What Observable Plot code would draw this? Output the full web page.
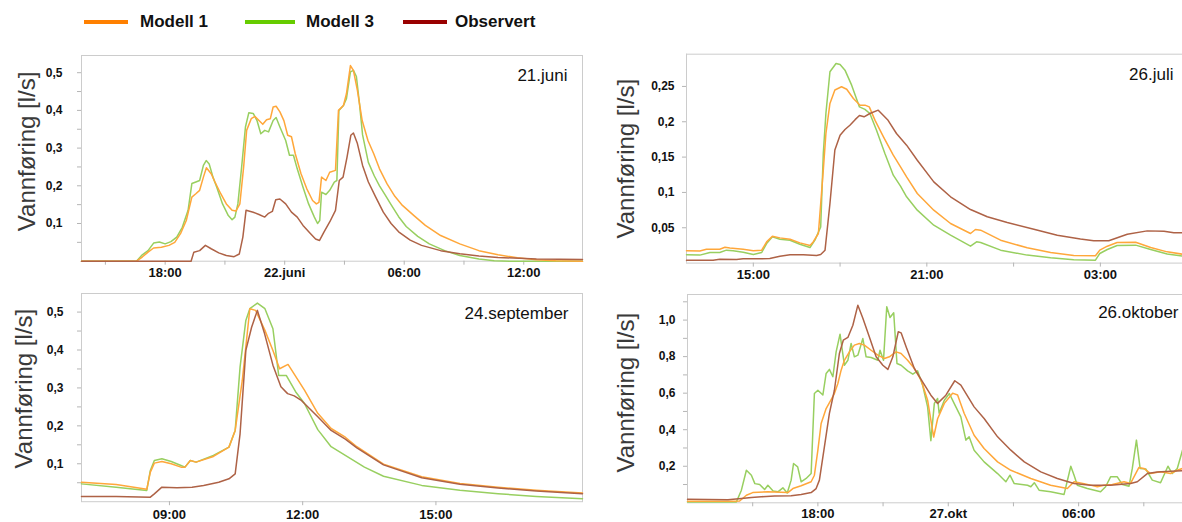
<!DOCTYPE html>
<html>
<head>
<meta charset="utf-8">
<script src="https://cdn.jsdelivr.net/npm/d3@7"></script>
<script src="https://cdn.jsdelivr.net/npm/@observablehq/plot@0.6"></script>
<style>
  html, body { margin: 0; padding: 0; background: #fff; overflow: hidden; }
  body { width: 1182px; height: 522px; position: relative; font-family: "Liberation Sans", Arial, sans-serif; }
  .panel { position: absolute; }
  .lg-line { position: absolute; top: 20px; height: 4px; }
  .lg-text { position: absolute; top: 11px; font-size: 17px; line-height: 22px; font-weight: bold; color: #111; }
</style>
</head>
<body>
<div id="legend"></div>
<div id="p1" class="panel" style="left:0px;top:40px"></div>
<div id="p2" class="panel" style="left:600px;top:40px"></div>
<div id="p3" class="panel" style="left:0px;top:280px"></div>
<div id="p4" class="panel" style="left:600px;top:280px"></div>
<script>
// ---------- series names / colours ----------
const seriesNames = ["Modell 1", "Modell 3", "Observert"];
const legendColors = ["#ff8000", "#66cc00", "#990000"];
const lineColors = ["#ffa73a", "#98cf60", "#ae6246"];
const yTitle = "Vannføring [l/s]";

// ---------- 21. juni (hours since 21 June 00:00, l/s) ----------
const juniModell1 = [[13.8,0],[16.56,0],[16.85,0.011],[17.14,0.024],[17.42,0.035],[17.81,0.037],[18.19,0.042],[18.48,0.05],[18.77,0.073],[19.06,0.108],[19.34,0.17],[19.54,0.179],[19.73,0.188],[19.92,0.223],[20.07,0.248],[20.31,0.232],[20.5,0.21],[20.79,0.179],[21.07,0.152],[21.36,0.135],[21.55,0.133],[21.75,0.152],[21.94,0.25],[22.09,0.347],[22.32,0.378],[22.51,0.384],[22.71,0.373],[22.9,0.363],[23.09,0.375],[23.28,0.378],[23.42,0.409],[23.57,0.411],[23.76,0.396],[23.96,0.373],[24.15,0.334],[24.34,0.33],[24.53,0.285],[24.82,0.232],[25.11,0.192],[25.4,0.161],[25.59,0.152],[25.72,0.156],[25.85,0.223],[26.07,0.214],[26.26,0.236],[26.55,0.241],[26.7,0.4],[26.95,0.413],[27.1,0.444],[27.3,0.519],[27.45,0.506],[27.65,0.453],[27.89,0.373],[28.18,0.32],[28.47,0.285],[28.76,0.245],[29.14,0.205],[29.53,0.172],[29.91,0.148],[30.49,0.121],[31.06,0.095],[31.83,0.068],[32.79,0.046],[33.75,0.028],[34.71,0.017],[35.68,0.009],[36.64,0.004],[37.6,0.001],[38.95,0]];
const juniModell3 = [[13.8,0],[16.56,0],[16.85,0.017],[17.14,0.028],[17.42,0.048],[17.71,0.051],[18.0,0.046],[18.29,0.052],[18.58,0.064],[18.86,0.09],[19.15,0.135],[19.34,0.206],[19.54,0.21],[19.73,0.214],[19.92,0.254],[20.06,0.267],[20.21,0.258],[20.4,0.223],[20.59,0.196],[20.88,0.152],[21.17,0.121],[21.36,0.11],[21.5,0.117],[21.65,0.152],[21.84,0.25],[22.03,0.356],[22.2,0.394],[22.42,0.392],[22.61,0.373],[22.8,0.338],[23.0,0.347],[23.19,0.343],[23.42,0.373],[23.57,0.381],[23.76,0.356],[24.05,0.32],[24.24,0.281],[24.44,0.281],[24.63,0.245],[24.92,0.196],[25.2,0.152],[25.49,0.117],[25.65,0.1],[25.76,0.108],[25.85,0.183],[26.07,0.177],[26.26,0.188],[26.49,0.21],[26.62,0.214],[26.72,0.4],[26.95,0.413],[27.1,0.431],[27.3,0.502],[27.45,0.506],[27.6,0.49],[27.75,0.42],[27.91,0.335],[28.2,0.262],[28.5,0.226],[28.76,0.2],[29.05,0.175],[29.34,0.15],[29.72,0.118],[30.1,0.092],[30.68,0.066],[31.26,0.046],[32.03,0.028],[32.79,0.015],[33.75,0.006],[34.52,0.001],[35.29,0],[38.95,0]];
const juniObservert = [[13.8,0],[19.3,0],[19.44,0.024],[19.73,0.028],[20.02,0.042],[20.31,0.033],[20.69,0.022],[21.07,0.015],[21.46,0.012],[21.72,0.019],[21.9,0.064],[22.06,0.135],[22.42,0.13],[22.71,0.124],[23.0,0.117],[23.19,0.127],[23.38,0.132],[23.55,0.163],[23.76,0.165],[24.05,0.152],[24.34,0.13],[24.63,0.117],[24.92,0.095],[25.3,0.073],[25.55,0.059],[25.75,0.055],[25.97,0.077],[26.26,0.104],[26.55,0.135],[26.74,0.214],[26.93,0.223],[27.13,0.276],[27.32,0.334],[27.45,0.34],[27.65,0.312],[27.91,0.254],[28.2,0.21],[28.57,0.17],[28.95,0.13],[29.34,0.1],[29.72,0.078],[30.3,0.056],[30.87,0.042],[31.83,0.028],[32.79,0.02],[33.75,0.014],[34.71,0.01],[36.64,0.006],[38.95,0.0045]];
const juniXTicks = [18, 24, 30, 36];
const juniXLabels = ["18:00", "22.juni", "06:00", "12:00"];
const juniXMinor = [15, 18, 21, 24, 27, 30, 33, 36];
const juniYTicks = [0.1, 0.2, 0.3, 0.4, 0.5];
const juniYMinor = [0.05, 0.1, 0.15, 0.2, 0.25, 0.3, 0.35, 0.4, 0.45, 0.5];

// ---------- 26. juli ----------
const juliModell1 = [[12.69,0.0174],[13.15,0.017],[13.38,0.0197],[13.84,0.0197],[14.02,0.0225],[14.19,0.0215],[14.65,0.0197],[15.0,0.0174],[15.29,0.0183],[15.46,0.03],[15.66,0.038],[15.92,0.0357],[16.27,0.0338],[16.61,0.0286],[16.96,0.0248],[17.07,0.03],[17.25,0.0419],[17.42,0.1315],[17.51,0.183],[17.65,0.226],[17.82,0.245],[18.05,0.2495],[18.23,0.246],[18.46,0.233],[18.69,0.2235],[18.86,0.2235],[19.01,0.221],[19.21,0.202],[19.5,0.1787],[19.84,0.1527],[20.09,0.1362],[20.3,0.122],[20.67,0.0985],[21.24,0.0749],[21.82,0.056],[22.51,0.0419],[22.68,0.0475],[22.86,0.0466],[23.55,0.0324],[24.47,0.0216],[25.28,0.015],[26.08,0.0108],[26.83,0.0103],[26.98,0.0183],[27.24,0.0239],[27.58,0.0291],[28.22,0.0296],[28.74,0.022],[29.31,0.0159],[29.84,0.0126]];
const juliModell3 = [[12.69,0.0117],[13.15,0.0113],[13.5,0.015],[13.84,0.015],[14.07,0.0183],[14.3,0.0174],[14.65,0.0155],[15.0,0.0122],[15.29,0.015],[15.46,0.0277],[15.66,0.0371],[15.92,0.0338],[16.27,0.0324],[16.61,0.0267],[16.96,0.022],[17.13,0.0324],[17.33,0.0513],[17.42,0.155],[17.51,0.2117],[17.65,0.2707],[17.86,0.2824],[18.0,0.281],[18.17,0.273],[18.4,0.2518],[18.67,0.221],[18.86,0.2176],[19.03,0.2117],[19.26,0.188],[19.55,0.155],[19.84,0.1244],[20.09,0.1088],[20.3,0.0938],[20.67,0.0749],[21.24,0.0536],[21.82,0.0395],[22.51,0.0239],[22.72,0.0301],[22.86,0.0292],[23.55,0.0183],[24.47,0.0113],[25.28,0.0075],[26.08,0.0047],[26.83,0.0042],[26.98,0.0136],[27.24,0.0192],[27.58,0.0249],[28.22,0.0254],[28.74,0.0192],[29.31,0.013],[29.84,0.0099]];
const juliObservert = [[12.69,0.0041],[13.61,0.0041],[13.84,0.0055],[14.42,0.005],[14.65,0.006],[15.57,0.0064],[15.92,0.0098],[16.27,0.0117],[16.73,0.0117],[17.19,0.0108],[17.33,0.0122],[17.48,0.0183],[17.65,0.0843],[17.82,0.16],[18.0,0.181],[18.17,0.189],[18.34,0.195],[18.52,0.203],[18.67,0.2089],[18.83,0.207],[19.03,0.2117],[19.32,0.2164],[19.66,0.202],[19.95,0.1834],[20.3,0.1669],[20.67,0.1456],[21.24,0.115],[21.82,0.0938],[22.51,0.0758],[23.09,0.0655],[23.78,0.0575],[24.7,0.048],[25.51,0.0395],[26.31,0.034],[26.77,0.0317],[27.29,0.0317],[27.93,0.0409],[28.62,0.0456],[29.2,0.0451],[29.54,0.0428],[29.84,0.0428]];
const juliXTicks = [15, 21, 27];
const juliXLabels = ["15:00", "21:00", "03:00"];
const juliXMinor = [15, 18, 21, 24, 27];
const juliYTicks = [0.05, 0.1, 0.15, 0.2, 0.25];
const juliYMinor = [0.05, 0.1, 0.15, 0.2, 0.25];

// ---------- 24. september ----------
const septModell1 = [[7.02,0.0515],[7.8,0.0454],[8.49,0.0331],[8.57,0.078],[8.66,0.1017],[8.83,0.106],[9.04,0.0999],[9.26,0.0911],[9.35,0.0911],[9.47,0.1087],[9.6,0.1043],[9.99,0.1193],[10.34,0.1439],[10.48,0.1879],[10.64,0.3197],[10.81,0.5089],[10.94,0.5045],[11.15,0.4517],[11.33,0.3989],[11.48,0.3505],[11.67,0.362],[12.04,0.294],[12.34,0.233],[12.64,0.193],[12.96,0.17],[13.22,0.145],[13.82,0.099],[14.68,0.066],[15.54,0.048],[16.4,0.038],[17.26,0.03],[18.3,0.023]];
const septModell3 = [[7.02,0.047],[7.8,0.0383],[8.49,0.0296],[8.57,0.0823],[8.66,0.1087],[8.83,0.1131],[9.04,0.106],[9.26,0.0955],[9.35,0.0911],[9.47,0.1087],[9.6,0.1043],[9.99,0.122],[10.34,0.1439],[10.48,0.188],[10.59,0.355],[10.72,0.478],[10.81,0.509],[10.98,0.5238],[11.15,0.509],[11.33,0.456],[11.46,0.333],[11.63,0.333],[11.84,0.29],[12.04,0.259],[12.34,0.19],[12.64,0.145],[12.96,0.122],[13.39,0.091],[13.82,0.067],[14.68,0.043],[15.54,0.03],[16.4,0.021],[17.26,0.014],[18.3,0.0076]];
const septObservert = [[7.02,0.0137],[7.8,0.0137],[8.57,0.012],[8.66,0.0207],[8.83,0.0384],[9.17,0.0366],[9.51,0.0384],[9.77,0.0427],[10.11,0.0515],[10.34,0.0603],[10.48,0.0735],[10.59,0.179],[10.72,0.399],[10.85,0.46],[10.98,0.5045],[11.14,0.444],[11.33,0.36],[11.51,0.303],[11.66,0.285],[11.81,0.279],[11.96,0.268],[12.34,0.224],[12.64,0.188],[12.96,0.165],[13.22,0.142],[13.82,0.097],[14.68,0.063],[15.54,0.046],[16.4,0.036],[17.26,0.028],[18.3,0.021]];
const septXTicks = [9, 12, 15];
const septXLabels = ["09:00", "12:00", "15:00"];
const septXMinor = [9, 12, 15];
const septYTicks = [0.1, 0.2, 0.3, 0.4, 0.5];
const septYMinor = [0.05, 0.1, 0.15, 0.2, 0.25, 0.3, 0.35, 0.4, 0.45, 0.5];

// ---------- 26. oktober ----------
const oktModell1 = [[12.0,0.008],[14.02,0.008],[14.4,0.01],[14.71,0.0416],[15.0,0.056],[15.7,0.06],[16.31,0.058],[16.62,0.056],[16.85,0.078],[17.23,0.093],[17.69,0.115],[17.84,0.151],[18.0,0.288],[18.15,0.434],[18.38,0.516],[18.61,0.565],[18.76,0.598],[18.92,0.653],[19.07,0.726],[19.22,0.78],[19.45,0.826],[19.68,0.863],[19.91,0.872],[20.14,0.863],[20.45,0.835],[20.76,0.808],[21.06,0.79],[21.29,0.799],[21.6,0.826],[21.83,0.817],[22.13,0.78],[22.44,0.735],[22.75,0.672],[23.05,0.5616],[23.2,0.452],[23.33,0.36],[23.51,0.46],[23.82,0.544],[24.2,0.6],[24.43,0.59],[24.73,0.49],[25.19,0.37],[25.65,0.297],[26.27,0.224],[26.88,0.178],[27.8,0.133],[28.71,0.096],[29.48,0.078],[29.79,0.115],[30.25,0.105],[30.86,0.088],[31.17,0.096],[31.55,0.1],[32.09,0.115],[32.39,0.106],[32.77,0.193],[33.0,0.188],[33.31,0.16],[33.77,0.17],[34.23,0.16],[34.54,0.178],[34.78,0.188]];
const oktModell3 = [[12.0,0.005],[14.25,0.005],[14.48,0.069],[14.71,0.178],[14.94,0.151],[15.1,0.105],[15.32,0.1],[15.55,0.073],[15.7,0.096],[15.94,0.065],[16.16,0.06],[16.39,0.082],[16.59,0.054],[16.77,0.124],[16.88,0.215],[17.07,0.197],[17.23,0.115],[17.46,0.133],[17.69,0.16],[17.84,0.598],[18.0,0.616],[18.23,0.59],[18.38,0.708],[18.53,0.73],[18.69,0.69],[18.84,0.826],[19.02,0.923],[19.22,0.753],[19.38,0.78],[19.53,0.872],[19.68,0.799],[19.84,0.808],[20.07,0.899],[20.22,0.799],[20.45,0.795],[20.76,0.78],[20.86,0.835],[21.02,0.78],[21.17,1.073],[21.32,1.014],[21.49,1.04],[21.64,0.762],[21.83,0.753],[22.13,0.722],[22.37,0.704],[22.59,0.722],[22.82,0.644],[23.05,0.525],[23.2,0.34],[23.36,0.544],[23.51,0.571],[23.58,0.49],[23.82,0.5616],[24.05,0.598],[24.27,0.544],[24.58,0.47],[24.81,0.343],[24.96,0.361],[25.19,0.288],[25.65,0.224],[26.27,0.16],[26.65,0.115],[26.84,0.151],[27.03,0.106],[27.65,0.096],[27.8,0.088],[27.96,0.11],[28.18,0.069],[28.71,0.06],[29.33,0.046],[29.64,0.2],[29.79,0.151],[29.94,0.096],[30.4,0.078],[31.01,0.06],[31.24,0.088],[31.47,0.142],[31.78,0.142],[32.01,0.1],[32.32,0.091],[32.47,0.188],[32.66,0.343],[32.83,0.188],[33.09,0.185],[33.39,0.124],[33.77,0.11],[34.11,0.2],[34.31,0.16],[34.54,0.188],[34.78,0.288]];
const oktObservert = [[12.0,0.019],[13.86,0.017],[14.48,0.0235],[14.94,0.029],[15.4,0.033],[16.01,0.037],[16.77,0.039],[17.23,0.046],[17.69,0.056],[17.92,0.078],[18.07,0.124],[18.3,0.306],[18.53,0.489],[18.76,0.616],[18.99,0.817],[19.17,0.89],[19.38,0.905],[19.61,0.972],[19.84,1.0815],[20.07,1.01],[20.37,0.908],[20.68,0.799],[20.99,0.753],[21.22,0.73],[21.45,0.799],[21.7,0.936],[21.83,0.93],[22.06,0.854],[22.44,0.735],[22.82,0.662],[23.2,0.589],[23.51,0.544],[23.89,0.589],[24.3,0.668],[24.58,0.644],[25.19,0.525],[25.65,0.461],[26.27,0.361],[26.88,0.288],[27.5,0.224],[28.26,0.169],[29.02,0.133],[29.79,0.106],[30.55,0.096],[31.47,0.096],[32.39,0.106],[32.7,0.115],[33.16,0.16],[33.62,0.169],[34.23,0.173],[34.78,0.175]];
const oktXTicks = [18, 24, 30];
const oktXLabels = ["18:00", "27.okt", "06:00"];
const oktXMinor = [15, 18, 21, 24, 27, 30, 33];
const oktYTicks = [0.2, 0.4, 0.6, 0.8, 1.0];
const oktYMinor = [0.1, 0.2, 0.3, 0.4, 0.5, 0.6, 0.7, 0.8, 0.9, 1.0, 1.1];

// ---------- legend ----------
const legendX = [[84, 128, 140], [245, 295, 306], [403, 447, 455]];
const legend = document.getElementById("legend");
seriesNames.forEach((name, i) => {
  const line = document.createElement("div");
  line.className = "lg-line";
  line.style.left = legendX[i][0] + "px";
  line.style.width = (legendX[i][1] - legendX[i][0]) + "px";
  line.style.background = legendColors[i];
  legend.appendChild(line);
  const t = document.createElement("div");
  t.className = "lg-text";
  t.style.left = legendX[i][2] + "px";
  t.textContent = name;
  legend.appendChild(t);
});

// ---------- panels ----------
const fmt1 = d => d.toFixed(1).replace(".", ",");
const fmt2 = d => String(+d.toFixed(2)).replace(".", ",");
const FONT = '"Liberation Sans", Arial, sans-serif';

function drawPanel(c) {
  const frameColor = "#cccccc";
  const marks = [];
  if (c.openRight) {
    marks.push(Plot.ruleY([c.yDomain[0], c.yDomain[1]], {stroke: frameColor}));
    marks.push(Plot.ruleX([c.xDomain[0]], {stroke: frameColor}));
  } else {
    marks.push(Plot.frame({stroke: frameColor}));
  }
  marks.push(Plot.axisY(c.yMinor, {tickSize: 4, stroke: "#b5b5b5", fill: "none", label: null}));
  marks.push(Plot.axisY(c.yTicks, {tickSize: 0, tickPadding: c.yPad, tickFormat: c.yFormat, fontSize: 12, fontWeight: "bold", fill: "#111", label: null}));
  marks.push(Plot.axisX(c.xMinor, {tickSize: 4, stroke: "#b5b5b5", fill: "none", label: null}));
  marks.push(Plot.axisX(c.xTicks, {tickSize: 0, tickPadding: c.xPad, tickFormat: d => c.xLabels[c.xTicks.indexOf(d)], fontSize: 13, fontWeight: "bold", fill: "#111", label: null}));
  [1, 0, 2].forEach(i => {
    marks.push(Plot.line(c.series[i], {x: d => d[0], y: d => d[1], stroke: lineColors[i], strokeWidth: 1.5}));
  });
  marks.push(Plot.text([c.title], {text: d => d, frameAnchor: "top-right", dx: c.titleDx, dy: c.titleDy, textAnchor: "end", lineAnchor: "middle", fontSize: 17, fill: "#111"}));
  marks.push(Plot.text([yTitle], {text: d => d, frameAnchor: "left", dx: c.labelDx, dy: c.labelDy, rotate: -90, textAnchor: "middle", lineAnchor: "middle", fontSize: 24, fill: "#3a3a3a"}));
  const svg = Plot.plot({
    width: c.width, height: c.height,
    marginLeft: c.m[0], marginRight: c.m[1], marginTop: c.m[2], marginBottom: c.m[3],
    x: {domain: c.xDomain, label: null},
    y: {domain: c.yDomain, label: null},
    style: {fontFamily: FONT, background: "white", overflow: "visible"},
    marks
  });
  document.getElementById(c.el).append(svg);
}

drawPanel({el: "p1", width: 600, height: 250, m: [81, 18, 15, 29.3],
  xDomain: [13.8, 38.95], yDomain: [0, 0.5456],
  xTicks: juniXTicks, xLabels: juniXLabels, xMinor: juniXMinor, xPad: 7,
  yTicks: juniYTicks, yMinor: juniYMinor, yFormat: fmt1, yPad: 19,
  series: [juniModell1, juniModell3, juniObservert],
  title: "21.juni", titleDx: -15, titleDy: 20, labelDx: -54, labelDy: -7});

drawPanel({el: "p2", width: 582, height: 250, m: [86, 0, 13.7, 27.4], openRight: true,
  xDomain: [12.69, 29.84], yDomain: [0, 0.2956],
  xTicks: juliXTicks, xLabels: juliXLabels, xMinor: juliXMinor, xPad: 7,
  yTicks: juliYTicks, yMinor: juliYMinor, yFormat: fmt2, yPad: 12,
  series: [juliModell1, juliModell3, juliObservert],
  title: "26.juli", titleDx: -9, titleDy: 20, labelDx: -60, labelDy: 0});

drawPanel({el: "p3", width: 600, height: 242, m: [81, 18, 13, 20.8],
  xDomain: [7.02, 18.3], yDomain: [0, 0.549],
  xTicks: septXTicks, xLabels: septXLabels, xMinor: septXMinor, xPad: 8,
  yTicks: septYTicks, yMinor: septYMinor, yFormat: fmt1, yPad: 18,
  series: [septModell1, septModell3, septObservert],
  title: "24.september", titleDx: -14, titleDy: 20, labelDx: -57, labelDy: -9});

drawPanel({el: "p4", width: 582, height: 242, m: [87, 0, 14, 19.7], openRight: true,
  xDomain: [12.0, 34.78], yDomain: [0, 1.14],
  xTicks: oktXTicks, xLabels: oktXLabels, xMinor: oktXMinor, xPad: 6,
  yTicks: oktYTicks, yMinor: oktYMinor, yFormat: fmt1, yPad: 12,
  series: [oktModell1, oktModell3, oktObservert],
  title: "26.oktober", titleDx: -4, titleDy: 18, labelDx: -61, labelDy: -6});
</script>
</body>
</html>
